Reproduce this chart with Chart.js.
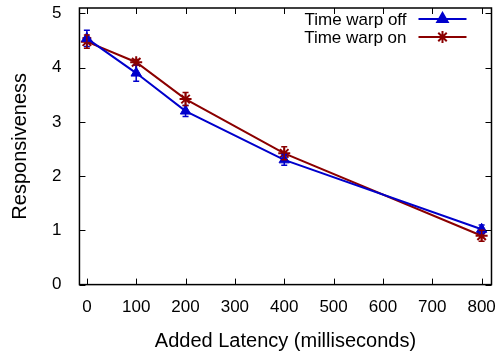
<!DOCTYPE html>
<html>
<head>
    <style>
        body { margin: 0; background: #ffffff; }
        #wrap { width: 501px; height: 358px; position: relative; }
    </style>
    <script src="https://cdn.jsdelivr.net/npm/chart.js"></script>
</head>
<body>
<div id="wrap"><canvas id="latencyChart"></canvas></div>
<script>
    // values
    var latencies = [0, 100, 200, 400, 800];
    var warpOff = [4.54, 3.9, 3.2, 2.3, 1.02];
    var warpOffErr = [0.15, 0.15, 0.1, 0.1, 0.08];
    var warpOn = [4.48, 4.1, 3.42, 2.42, 0.9];
    var warpOnErr = [0.12, 0.05, 0.12, 0.12, 0.1];
    var xTicks = [0, 100, 200, 300, 400, 500, 600, 700, 800];
    var yTicks = [0, 1, 2, 3, 4, 5];

    var blue = '#0000cc';
    var red = '#8b0000';
    var fontFamily = '"Liberation Sans", Arial, sans-serif';
    var errors = [warpOffErr, warpOnErr];

    function points(xs, ys) {
        return xs.map(function (x, i) { return { x: x, y: ys[i] }; });
    }

    // gnuplot style: box round the plot, ticks pointing in on all four sides
    var frame = {
        id: 'frame',
        afterDatasetsDraw: function (chart) {
            var c = chart.ctx, a = chart.chartArea;
            var xs = chart.scales.x, ys = chart.scales.y;
            c.save();
            c.strokeStyle = '#000';
            c.lineWidth = 1;
            c.beginPath();
            xTicks.forEach(function (v) {
                var px = Math.round(xs.getPixelForValue(v)) + 0.5;
                c.moveTo(px, a.bottom); c.lineTo(px, a.bottom - 6);
                c.moveTo(px, a.top); c.lineTo(px, a.top + 6);
            });
            yTicks.forEach(function (v) {
                var py = Math.round(ys.getPixelForValue(v)) + 0.5;
                c.moveTo(a.left, py); c.lineTo(a.left + 6, py);
                c.moveTo(a.right, py); c.lineTo(a.right - 6, py);
            });
            c.stroke();
            c.lineWidth = 1.5;
            c.strokeRect(a.left, a.top, a.right - a.left, a.bottom - a.top);
            c.restore();
        }
    };

    // error bars drawn through the scales
    var errorBars = {
        id: 'errorBars',
        afterDatasetsDraw: function (chart) {
            var c = chart.ctx;
            var xs = chart.scales.x, ys = chart.scales.y;
            c.save();
            c.lineWidth = 1.5;
            chart.data.datasets.forEach(function (ds, di) {
                c.strokeStyle = ds.borderColor;
                ds.data.forEach(function (p, i) {
                    var e = errors[di][i];
                    var px = xs.getPixelForValue(p.x);
                    var top = ys.getPixelForValue(p.y + e);
                    var bot = ys.getPixelForValue(p.y - e);
                    c.beginPath();
                    c.moveTo(px, top); c.lineTo(px, bot);
                    c.moveTo(px - 3, top); c.lineTo(px + 3, top);
                    c.moveTo(px - 3, bot); c.lineTo(px + 3, bot);
                    c.stroke();
                });
            });
            c.restore();
        }
    };

    // legend at top right: text, then a line sample with the marker
    var keyBox = {
        id: 'keyBox',
        afterDraw: function (chart) {
            var c = chart.ctx, a = chart.chartArea;
            c.save();
            c.font = '17px ' + fontFamily;
            c.textAlign = 'right';
            c.textBaseline = 'middle';
            chart.data.datasets.forEach(function (ds, i) {
                var y = a.top + 11 + i * 18;
                var x1 = a.right - 73, x2 = a.right - 25;
                c.fillStyle = '#000';
                c.fillText(ds.label, x1 - 12, y + 1);
                c.strokeStyle = ds.borderColor;
                c.lineWidth = 2;
                c.beginPath(); c.moveTo(x1, y); c.lineTo(x2, y); c.stroke();
                c.fillStyle = ds.backgroundColor;
                Chart.helpers.drawPoint(c, {
                    pointStyle: ds.pointStyle, radius: ds.pointRadius, borderWidth: ds.pointBorderWidth, rotation: 0
                }, (x1 + x2) / 2, y);
            });
            c.restore();
        }
    };

    new Chart(document.getElementById('latencyChart'), {
        type: 'scatter',
        data: {
            datasets: [{
                label: 'Time warp off',
                data: points(latencies, warpOff),
                showLine: true,
                borderColor: blue,
                backgroundColor: blue,
                borderWidth: 2,
                pointStyle: 'triangle',
                pointRadius: 6,
                pointBorderWidth: 1
            }, {
                label: 'Time warp on',
                data: points(latencies, warpOn),
                showLine: true,
                borderColor: red,
                backgroundColor: red,
                borderWidth: 2,
                pointStyle: 'star',
                pointRadius: 6,
                pointBorderWidth: 2
            }]
        },
        options: {
            responsive: true,
            maintainAspectRatio: false,
            animation: false,
            layout: { padding: { top: 4, right: 8, left: 4, bottom: 5 } },
            plugins: { legend: { display: false }, tooltip: { enabled: false } },
            scales: {
                x: {
                    type: 'linear',
                    min: -15,
                    max: 820,
                    afterBuildTicks: function (s) { s.ticks = xTicks.map(function (v) { return { value: v }; }); },
                    grid: { display: false },
                    border: { display: false },
                    ticks: { color: '#000', font: { size: 17, family: fontFamily }, padding: 5, maxRotation: 0 },
                    title: { display: true, text: 'Added Latency (milliseconds)', color: '#000',
                        font: { size: 20, family: fontFamily }, padding: { top: 6, bottom: 0 } }
                },
                y: {
                    min: 0,
                    max: 5.1,
                    afterBuildTicks: function (s) { s.ticks = yTicks.map(function (v) { return { value: v }; }); },
                    afterFit: function (s) { s.paddingTop = 0; },
                    grid: { display: false },
                    border: { display: false },
                    ticks: { color: '#000', font: { size: 17, family: fontFamily }, padding: 10 },
                    title: { display: true, text: 'Responsiveness', color: '#000',
                        font: { size: 20, family: fontFamily }, padding: { bottom: 10 } }
                }
            }
        },
        plugins: [errorBars, frame, keyBox]
    });
</script>
</body>
</html>
